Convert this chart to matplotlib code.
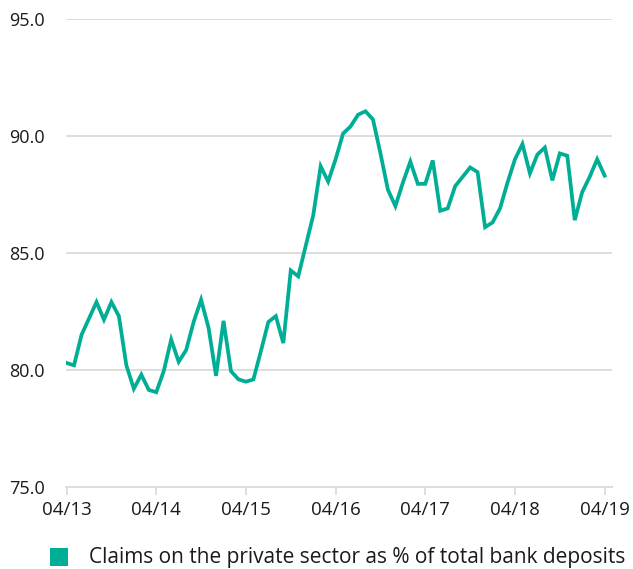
import matplotlib
matplotlib.use("Agg")
import matplotlib.pyplot as plt
from matplotlib.patches import Rectangle

months = list(range(73))
values = [80.3, 80.2, 81.5, 82.2, 82.9, 82.15, 82.9, 82.3, 80.2, 79.2,
          79.8, 79.15, 79.05, 79.95, 81.3, 80.35, 80.85, 82.05, 83.0, 81.8,
          79.75, 82.1, 79.95, 79.6, 79.5, 79.6, 80.8, 82.05, 82.3, 81.15,
          84.25, 84.0, 85.3, 86.6, 88.7, 88.05, 89.0, 90.1, 90.4, 90.9,
          91.05, 90.7, 89.25, 87.7, 87.0, 88.0, 88.9, 87.95, 87.95, 88.95,
          86.8, 86.9, 87.85, 88.25, 88.65, 88.45, 86.1, 86.3, 86.9, 88.0,
          89.0, 89.65, 88.4, 89.2, 89.5, 88.1, 89.25, 89.15, 86.4, 87.6,
          88.25, 89.0, 88.3]
xtick_pos = [0, 12, 24, 36, 48, 60, 72]
xtick_labels = ["04/13", "04/14", "04/15", "04/16", "04/17", "04/18", "04/19"]
yticks = [75, 80, 85, 90, 95]
series_label = "Claims on the private sector as % of total bank deposits"

color = "#00AE96"
plt.rcParams['font.family'] = ['Open Sans', 'DejaVu Sans']

fig = plt.figure(figsize=(6.33, 5.69), dpi=100)
ax = fig.add_axes([0.104, 0.144, 0.863, 0.823])

ax.plot(months, values, color=color, lw=2.7, solid_joinstyle='miter', zorder=3)

ax.set_ylim(75, 95)
ax.set_xlim(-0.1, 73)
ax.set_yticks(yticks)
ax.set_yticklabels([f"{v:.1f}" for v in yticks], fontsize=13, color="#1a1a1a")
ax.set_xticks(xtick_pos)
ax.set_xticklabels(xtick_labels, fontsize=13.5, color="#1a1a1a")
ax.tick_params(axis='y', length=0, pad=15)
ax.tick_params(axis='x', length=6, width=1.2, color="#d9d9d9", pad=4)
ax.grid(axis='y', color="#dddddd", lw=1.4, zorder=0)
for s in ['top', 'right', 'left']:
    ax.spines[s].set_visible(False)
ax.spines['bottom'].set_color("#dddddd")
ax.spines['bottom'].set_linewidth(1.4)

# legend
fig.patches.append(Rectangle((50/633, 1-566/569), 18/633, 18/569,
                             transform=fig.transFigure, facecolor=color,
                             edgecolor='none'))
fig.text(89/633, 1-558/569, series_label, fontsize=15, color="#1a1a1a",
         va='center', ha='left')

fig.savefig("out.png", dpi=100)
